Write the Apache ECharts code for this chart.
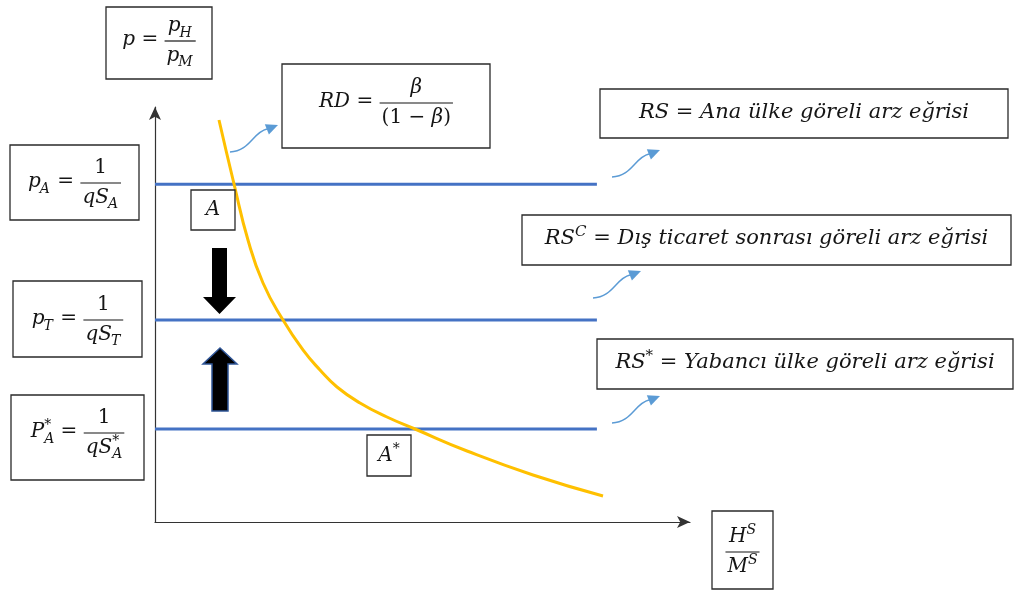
<!DOCTYPE html>
<html>
<head>
<meta charset="utf-8">
<title>Göreli arz ve talep</title>
<script src="https://cdn.jsdelivr.net/npm/echarts@6/dist/echarts.min.js"></script>
<style>
  html, body { margin: 0; padding: 0; background: #fff; }
  #main { width: 1015px; height: 593px; }
</style>
</head>
<body>
<div id="main"></div>
<script>
// relative supply levels (pA, pT, pA*) on a 0-100 price scale
const rsNames = ['RS', 'RSC', 'RS*'];
const rsLevels = [81.4, 48.7, 22.4];
const rsFromX = 0;
const rsToX = 82.6;

// relative demand curve RD
const rdX = [11.96, 14.77, 17.38, 20.19, 23.93, 27.66, 30.84, 34.02, 38.32, 43.36, 48.60, 58.32, 70.65, 83.74];
const rdY = [96.87, 81.45, 67.95, 57.59, 48.67, 41.45, 36.63, 32.53, 28.67, 25.30, 22.41, 17.11, 11.33, 6.27];

const FONT = "'DejaVu Serif', serif";
const INK = '#151515';
const mctx = document.createElement('canvas').getContext('2d');

function tw(t, size, italic) {
  mctx.font = (italic ? 'italic ' : '') + size + 'px ' + FONT;
  return mctx.measureText(t).width;
}

function textEl(t, x, cy, size, italic) {
  return {
    type: 'text', x: x, y: cy, z: 20,
    style: {
      text: t, font: (italic ? 'italic ' : '') + size + 'px ' + FONT, fill: INK,
      textAlign: 'left', textVerticalAlign: 'middle', align: 'left', verticalAlign: 'middle'
    }
  };
}

// lays out a small formula left to right, returns its width
function lay(items, size, x, cy, out) {
  let cx = x;
  for (const it of items) {
    if (it.frac) {
      const wn = lay(it.frac[0], size, 0, 0, null);
      const wd = lay(it.frac[1], size, 0, 0, null);
      const bw = Math.max(wn, wd) + size * 0.2;
      if (out) {
        lay(it.frac[0], size, cx + (bw - wn) / 2, cy - size * 0.7, out);
        lay(it.frac[1], size, cx + (bw - wd) / 2, cy + size * 0.78, out);
        out.push({ type: 'line', z: 20, shape: { x1: cx, y1: cy, x2: cx + bw, y2: cy },
          style: { stroke: INK, lineWidth: 1.2 } });
      }
      cx += bw;
    } else {
      const ital = !it.up;
      const w0 = tw(it.t, size, ital);
      if (out) out.push(textEl(it.t, cx, cy - 1, size, ital));
      cx += w0;
      const ss = Math.round(size * 0.72);
      let ws = 0;
      if (it.sub) {
        ws = Math.max(ws, tw(it.sub, ss, true));
        if (out) out.push(textEl(it.sub, cx - (it.sup ? 0 : 1), cy + size * 0.3, ss, true));
      }
      if (it.sup) {
        ws = Math.max(ws, tw(it.sup, ss, it.sup !== '*'));
        if (out) out.push(textEl(it.sup, cx, cy - size * 0.38, ss, it.sup !== '*'));
      }
      cx += ws;
    }
  }
  return cx - x;
}

function boxed(x, y, w, h, items, size, barY, out) {
  out.push({ type: 'rect', z: 15, shape: { x: x, y: y, width: w, height: h },
    style: { fill: '#fff', stroke: '#2a2a2a', lineWidth: 1.3 } });
  const fw = lay(items, size, 0, 0, null);
  lay(items, size, x + w / 2 - fw / 2, barY, out);
}

function curlyArrow(tx, ty, out) {
  const c = '#5b9bd5';
  out.push({ type: 'bezierCurve', z: 18,
    shape: { x1: tx, y1: ty, cpx1: tx + 20, cpy1: ty - 1, cpx2: tx + 23, cpy2: ty - 20, x2: tx + 37, y2: ty - 23 },
    style: { stroke: c, lineWidth: 1.5, fill: null } });
  const hx = tx + 48, hy = ty - 27, a = Math.atan2(-4, 10), L = 12, W = 5.5;
  const bx = hx - L * Math.cos(a), by = hy - L * Math.sin(a);
  out.push({ type: 'polygon', z: 18,
    shape: { points: [[hx, hy], [bx - W * Math.sin(a), by + W * Math.cos(a)], [bx + W * Math.sin(a), by - W * Math.cos(a)]] },
    style: { fill: c } });
}

const eq = { t: ' = ', up: true };
const F = 20;   // formulas
const FL = 21;  // long labels
const g = [];

boxed(106, 7, 106, 72, [{ t: 'p' }, eq, { frac: [[{ t: 'p', sub: 'H' }], [{ t: 'p', sub: 'M' }]] }], F, 41, g);
boxed(10, 145, 129, 75, [{ t: 'p', sub: 'A' }, eq, { frac: [[{ t: '1', up: true }], [{ t: 'qS', sub: 'A' }]] }], F, 183, g);
boxed(13, 281, 129, 76, [{ t: 'p', sub: 'T' }, eq, { frac: [[{ t: '1', up: true }], [{ t: 'qS', sub: 'T' }]] }], F, 320, g);
boxed(11, 395, 133, 85, [{ t: 'P', sup: '*', sub: 'A' }, eq, { frac: [[{ t: '1', up: true }], [{ t: 'qS', sup: '*', sub: 'A' }]] }], F, 433, g);
boxed(282, 64, 208, 84, [{ t: 'RD' }, eq, { frac: [[{ t: 'β' }], [{ t: '(1 − ', up: true }, { t: 'β' }, { t: ')', up: true }]] }], F, 103, g);
boxed(712, 511, 61, 78, [{ frac: [[{ t: 'H', sup: 'S' }], [{ t: 'M', sup: 'S' }]] }], F, 552, g);
boxed(191, 190, 44, 40, [{ t: 'A' }], F, 211, g);
boxed(367, 435, 44, 41, [{ t: 'A', sup: '*' }], F, 457, g);

boxed(600, 89, 408, 49, [{ t: 'RS' }, eq, { t: 'Ana ülke göreli arz eğrisi' }], FL, 114, g);
boxed(522, 215, 489, 50, [{ t: 'RS', sup: 'C' }, eq, { t: 'Dış ticaret sonrası göreli arz eğrisi' }], FL, 240, g);
boxed(597, 339, 416, 50, [{ t: 'RS', sup: '*' }, eq, { t: 'Yabancı ülke göreli arz eğrisi' }], FL, 364, g);

curlyArrow(230, 152, g);
curlyArrow(612, 177, g);
curlyArrow(593, 298, g);
curlyArrow(612, 423, g);

// big block arrows between the supply lines
g.push({ type: 'polygon', z: 18,
  shape: { points: [[212, 248], [227, 248], [227, 297], [236, 297], [219.5, 314], [203, 297], [212, 297]] },
  style: { fill: '#000' } });
g.push({ type: 'polygon', z: 18,
  shape: { points: [[212, 411], [228, 411], [228, 364], [237, 364], [220, 348], [203, 364], [212, 364]] },
  style: { fill: '#000', stroke: '#2f5597', lineWidth: 1.5 } });

const series = rsLevels.map((v, i) => ({
  name: rsNames[i],
  type: 'line',
  data: [[rsFromX, v], [rsToX, v]],
  showSymbol: false,
  lineStyle: { color: '#4472c4', width: 3 },
  z: 3
}));
series.push({
  name: 'RD',
  type: 'line',
  smooth: 0.5,
  data: rdX.map((x, i) => [x, rdY[i]]),
  showSymbol: false,
  lineStyle: { color: '#ffc000', width: 3 },
  z: 4
});

const axisCommon = {
  type: 'value', min: 0, max: 100,
  axisLine: { show: true, onZero: false, symbol: ['none', 'arrow'], symbolSize: [9, 13],
    lineStyle: { color: '#333', width: 1.2 } },
  axisTick: { show: false }, axisLabel: { show: false }, splitLine: { show: false }
};

const chart = echarts.init(document.getElementById('main'), null, { renderer: 'canvas' });
chart.setOption({
  animation: false,
  backgroundColor: '#fff',
  grid: { left: 155, top: 107, width: 535, height: 415 },
  xAxis: axisCommon,
  yAxis: axisCommon,
  series: series,
  graphic: { elements: g }
});
</script>
</body>
</html>
